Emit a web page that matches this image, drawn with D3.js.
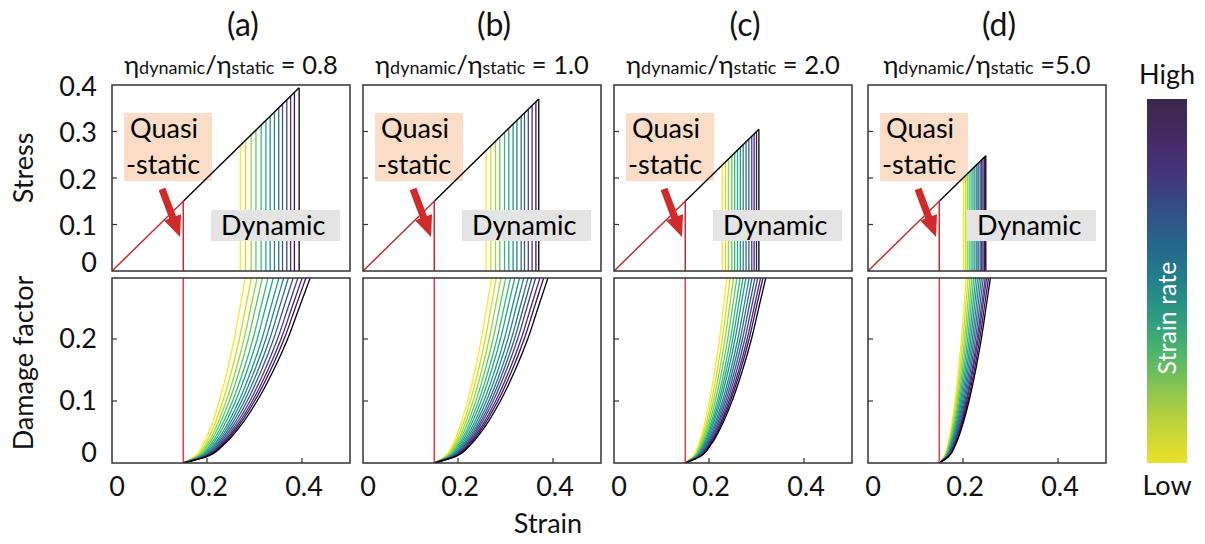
<!DOCTYPE html>
<html>
<head>
<meta charset="utf-8">
<script src="https://cdn.jsdelivr.net/npm/d3@7"></script>
<style>
  body { margin: 0; background: #fff; }
  svg { display: block; font-family: Lato, "Open Sans", sans-serif; }
</style>
</head>
<body>
<svg id="chart" width="1205" height="544"></svg>
<script>
// ---- data -------------------------------------------------------------
const panelLabels = ["(a)", "(b)", "(c)", "(d)"];
const viscosityRatios = ["0.8", "1.0", "2.0", "5.0"];
const ratioSeparators = [" = ", " = ", " = ", " ="];

const strainTicks = [0, 0.2, 0.4];
const stressTicks = [0, 0.1, 0.2, 0.3, 0.4];
const damageTicks = [0, 0.1, 0.2];

// quasi-static failure point (stress = strain on the elastic line)
const quasiStaticFailure = 0.15;
// strain at which damage starts to grow
const damageOnset = 0.15;

// failure strain of each strain rate, low -> high (last one drawn black)
const failureStrainA = [0.270, 0.281, 0.293, 0.303, 0.314, 0.324, 0.333, 0.342, 0.351, 0.359, 0.368, 0.376, 0.384, 0.394];
const failureStrainB = [0.259, 0.269, 0.279, 0.288, 0.298, 0.307, 0.316, 0.324, 0.333, 0.340, 0.348, 0.356, 0.364, 0.370];
const failureStrainC = [0.228, 0.235, 0.241, 0.248, 0.254, 0.260, 0.266, 0.272, 0.278, 0.284, 0.290, 0.295, 0.300, 0.305];
const failureStrainD = [0.201, 0.205, 0.209, 0.213, 0.217, 0.221, 0.225, 0.229, 0.232, 0.236, 0.239, 0.242, 0.245, 0.248];

// strain at which each damage curve reaches the top of the damage axis
const damageExitA = [0.281, 0.294, 0.306, 0.317, 0.329, 0.340, 0.352, 0.362, 0.372, 0.382, 0.392, 0.401, 0.409, 0.418];
const damageExitB = [0.271, 0.281, 0.291, 0.301, 0.311, 0.320, 0.330, 0.339, 0.348, 0.356, 0.364, 0.373, 0.381, 0.390];
const damageExitC = [0.238, 0.245, 0.252, 0.259, 0.266, 0.272, 0.278, 0.285, 0.291, 0.297, 0.303, 0.309, 0.314, 0.320];
const damageExitD = [0.207, 0.211, 0.215, 0.219, 0.223, 0.227, 0.231, 0.235, 0.239, 0.243, 0.247, 0.250, 0.254, 0.258];

// damage curve shape: damage level vs. fraction of the way from onset to exit
const damageLevels  = [0, 0.01, 0.03, 0.06, 0.10, 0.15, 0.20, 0.25, 0.30];
const damageProfile = [0, 0.18, 0.32, 0.45, 0.58, 0.71, 0.82, 0.91, 1.00];

const failureStrains = [failureStrainA, failureStrainB, failureStrainC, failureStrainD];
const damageExits = [damageExitA, damageExitB, damageExitC, damageExitD];

// colour bar stops, bottom (low rate) -> top (high rate)
const barStops = ["#ebe12a", "#c3d43a", "#8cc64f", "#4fb56b", "#2f9c80", "#23808a", "#27668c", "#354d87", "#45337c", "#432a63", "#3b2a4a"];

// ---- layout -----------------------------------------------------------
const svg = d3.select("#chart");
const panelLeft = [112, 363, 614, 868];
const panelWidth = 238;
const top0 = 85, top1 = 271;     // stress plot box
const bot0 = 278, bot1 = 463;    // damage plot box
const frameColor = "#333";
const fontSize = 27;

const rateColor = (i, n) => i === n - 1 ? "#000" : d3.interpolateViridis(1 - 0.97 * i / (n - 2));

const yStress = d3.scaleLinear().domain([0, 0.4]).range([top1, top0]);
const yDamage = d3.scaleLinear().domain([0, 0.3]).range([bot1, bot1 - 186]);

panelLabels.forEach((label, p) => {
  const left = panelLeft[p];
  const x = d3.scaleLinear().domain([0, 0.5]).range([left, left + 237.5]);
  const fs = failureStrains[p];
  const ex = damageExits[p];
  const n = fs.length;
  const g = svg.append("g");

  const clipId = "clip" + p;
  const defs = svg.append("defs");
  defs.append("clipPath").attr("id", clipId + "t")
    .append("rect").attr("x", left).attr("y", top0).attr("width", panelWidth).attr("height", top1 - top0);
  defs.append("clipPath").attr("id", clipId + "b")
    .append("rect").attr("x", left).attr("y", bot0).attr("width", panelWidth).attr("height", bot1 - bot0);

  // panel titles
  g.append("text").attr("x", left + 131).attr("y", 36)
    .attr("text-anchor", "middle").attr("font-size", 32).attr("fill", "#111").text(label);
  const sub = g.append("text").attr("x", left + 119).attr("y", 74)
    .attr("text-anchor", "middle").attr("font-size", 25.5).attr("fill", "#111");
  sub.append("tspan").text("η");
  sub.append("tspan").attr("font-size", 18).text("dynamic");
  sub.append("tspan").text("/η");
  sub.append("tspan").attr("font-size", 18).text("static");
  sub.append("tspan").text(ratioSeparators[p] + viscosityRatios[p]);

  // ---------- stress panel ----------
  const top = g.append("g").attr("clip-path", `url(#${clipId}t)`);

  // "Quasi -static" label box (under the curves)
  const qx = left + 12, qy = 113;
  top.append("rect").attr("x", qx).attr("y", qy).attr("width", 88).attr("height", 68).attr("fill", "#fbdcc6");
  top.append("text").attr("x", qx + 6).attr("y", qy + 25).attr("font-size", fontSize).text("Quasi");
  top.append("text").attr("x", qx + 2).attr("y", qy + 61).attr("font-size", fontSize).text("-static");

  // colored drops for each strain rate
  fs.forEach((e, i) => {
    top.append("line")
      .attr("x1", x(e)).attr("x2", x(e))
      .attr("y1", yStress(e)).attr("y2", yStress(0))
      .attr("stroke", rateColor(i, n)).attr("stroke-width", 1.3);
  });

  // elastic loading line of the dynamic cases
  top.append("line")
    .attr("x1", x(quasiStaticFailure)).attr("y1", yStress(quasiStaticFailure))
    .attr("x2", x(fs[n - 1])).attr("y2", yStress(fs[n - 1]))
    .attr("stroke", "#000").attr("stroke-width", 1.4);

  // quasi-static curve
  top.append("path")
    .attr("d", d3.line().x(d => x(d[0])).y(d => yStress(d[1]))([
      [0, 0], [quasiStaticFailure, quasiStaticFailure], [quasiStaticFailure, 0]
    ]))
    .attr("fill", "none").attr("stroke", "#cc2a2e").attr("stroke-width", 1.5);

  // "Dynamic" label box (over the curves)
  const dx = left + 99, dy = 210;
  g.append("rect").attr("x", dx).attr("y", dy).attr("width", 129).attr("height", 31).attr("fill", "#e4e4e4");
  g.append("text").attr("x", dx + 10).attr("y", dy + 25).attr("font-size", fontSize).text("Dynamic");

  // red arrow pointing to the quasi-static failure
  const tail = [left + 50, 189], tip = [left + 68, 237];
  const ang = Math.atan2(tip[1] - tail[1], tip[0] - tail[0]);
  const headLen = 21, headHalf = 9, shaftHalf = 3.6;
  const ux = Math.cos(ang), uy = Math.sin(ang), nx = -uy, ny = ux;
  const bx = tip[0] - ux * headLen, by = tip[1] - uy * headLen;
  const arrow = [
    [tail[0] + nx * shaftHalf, tail[1] + ny * shaftHalf],
    [bx + nx * shaftHalf, by + ny * shaftHalf],
    [bx + nx * headHalf, by + ny * headHalf],
    tip,
    [bx - nx * headHalf, by - ny * headHalf],
    [bx - nx * shaftHalf, by - ny * shaftHalf],
    [tail[0] - nx * shaftHalf, tail[1] - ny * shaftHalf]
  ];
  g.append("path").attr("d", "M" + arrow.map(d => d.join(",")).join("L") + "Z").attr("fill", "#d02a2a");

  // frame and ticks
  g.append("rect").attr("x", left).attr("y", top0).attr("width", panelWidth).attr("height", top1 - top0)
    .attr("fill", "none").attr("stroke", frameColor).attr("stroke-width", 1.5);
  g.selectAll(".st").data(stressTicks.slice(1, -1)).enter().append("line")
    .attr("x1", left).attr("x2", left + 5).attr("y1", d => yStress(d)).attr("y2", d => yStress(d))
    .attr("stroke", frameColor).attr("stroke-width", 1.2);

  // ---------- damage panel ----------
  const bot = g.append("g").attr("clip-path", `url(#${clipId}b)`);
  bot.append("line").attr("x1", x(quasiStaticFailure)).attr("x2", x(quasiStaticFailure))
    .attr("y1", bot0).attr("y2", bot1).attr("stroke", "#ee3a4c").attr("stroke-width", 1.5);

  const dLine = d3.line().x(d => x(d[0])).y(d => yDamage(d[1])).curve(d3.curveMonotoneY);
  ex.forEach((e, i) => {
    const pts = damageLevels.map((lv, k) => [damageOnset + damageProfile[k] * (e - damageOnset), lv]);
    bot.append("path").attr("d", dLine(pts))
      .attr("fill", "none").attr("stroke", rateColor(i, n)).attr("stroke-width", 1.3);
  });

  g.append("rect").attr("x", left).attr("y", bot0).attr("width", panelWidth).attr("height", bot1 - bot0)
    .attr("fill", "none").attr("stroke", frameColor).attr("stroke-width", 1.5);
  g.selectAll(".dt").data(damageTicks.slice(1)).enter().append("line")
    .attr("x1", left).attr("x2", left + 5).attr("y1", d => yDamage(d)).attr("y2", d => yDamage(d))
    .attr("stroke", frameColor).attr("stroke-width", 1.2);
  g.selectAll(".xt").data(strainTicks.slice(1)).enter().append("line")
    .attr("x1", d => x(d)).attr("x2", d => x(d)).attr("y1", bot1).attr("y2", bot1 - 5)
    .attr("stroke", frameColor).attr("stroke-width", 1.2);

  // strain tick labels
  g.selectAll(".xl").data(strainTicks).enter().append("text")
    .attr("x", d => x(d) + (d === 0 ? 5 : 2)).attr("y", 486).attr("dy", "0.36em")
    .attr("text-anchor", "middle").attr("font-size", fontSize).attr("fill", "#111")
    .text(d => d === 0 ? "0" : d3.format(".1f")(d));

  // y tick labels on the first column only
  if (p === 0) {
    g.selectAll(".yl").data(stressTicks).enter().append("text")
      .attr("x", 97).attr("y", d => d === 0 ? yStress(d) - 9 : yStress(d) + 1).attr("dy", "0.36em")
      .attr("text-anchor", "end").attr("font-size", fontSize).attr("fill", "#111")
      .text(d => d === 0 ? "0" : d3.format(".1f")(d));
    g.selectAll(".yd").data(damageTicks).enter().append("text")
      .attr("x", 97).attr("y", d => d === 0 ? yDamage(d) - 11 : yDamage(d) - 1).attr("dy", "0.36em")
      .attr("text-anchor", "end").attr("font-size", fontSize).attr("fill", "#111")
      .text(d => d === 0 ? "0" : d3.format(".1f")(d));
  }
});

// axis titles
svg.append("text").attr("transform", "translate(33,168) rotate(-90)")
  .attr("text-anchor", "middle").attr("font-size", fontSize).attr("fill", "#111").text("Stress");
svg.append("text").attr("transform", "translate(33,363) rotate(-90)")
  .attr("text-anchor", "middle").attr("font-size", fontSize).attr("fill", "#111").text("Damage factor");
svg.append("text").attr("x", 548).attr("y", 533)
  .attr("text-anchor", "middle").attr("font-size", fontSize).attr("fill", "#111").text("Strain");

// strain-rate colour bar
const grad = svg.append("defs").append("linearGradient").attr("id", "rateGrad")
  .attr("x1", 0).attr("y1", 1).attr("x2", 0).attr("y2", 0);
barStops.forEach((c, i) => {
  grad.append("stop").attr("offset", i / (barStops.length - 1)).attr("stop-color", c);
});
svg.append("rect").attr("x", 1147).attr("y", 99).attr("width", 40).attr("height", 364).attr("fill", "url(#rateGrad)");
svg.append("text").attr("x", 1167).attr("y", 84).attr("text-anchor", "middle")
  .attr("font-size", fontSize).attr("fill", "#111").text("High");
svg.append("text").attr("x", 1167).attr("y", 495).attr("text-anchor", "middle")
  .attr("font-size", fontSize).attr("fill", "#111").text("Low");
svg.append("text").attr("transform", "translate(1176,318) rotate(-90)")
  .attr("text-anchor", "middle").attr("font-size", 25).attr("fill", "#fff").text("Strain rate");
</script>
</body>
</html>
